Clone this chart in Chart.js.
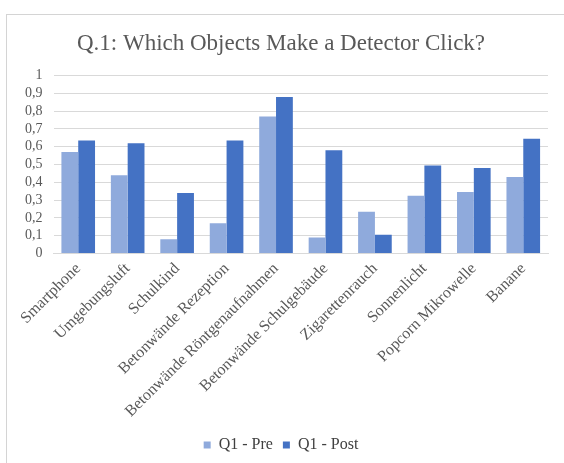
<!DOCTYPE html>
<html>
<head>
<meta charset="utf-8">
<script src="https://cdn.jsdelivr.net/npm/chart.js@4/dist/chart.umd.min.js"></script>
<style>
  html, body { margin: 0; padding: 0; background: #fff; }
  #frame { position: absolute; left: 6px; top: 14px; width: 600px; height: 500px; border: 1px solid #d4d4d4; }
  #wrap { position: absolute; left: 0; top: 0; width: 564px; height: 463px; }
</style>
</head>
<body>
<div id="frame"></div>
<div id="wrap"><canvas id="myChart" width="564" height="463"></canvas></div>
<script>
const categories = [
  "Smartphone",
  "Umgebungsluft",
  "Schulkind",
  "Betonwände Rezeption",
  "Betonwände Röntgenaufnahmen",
  "Betonwände Schulgebäude",
  "Zigarettenrauch",
  "Sonnenlicht",
  "Popcorn Mikrowelle",
  "Banane",
]
const preValues = [0.57, 0.44, 0.08, 0.17, 0.77, 0.09, 0.235, 0.325, 0.345, 0.43]
const postValues = [0.635, 0.62, 0.34, 0.635, 0.88, 0.58, 0.105, 0.495, 0.48, 0.645]

const serif = "'Liberation Serif', 'Times New Roman', serif"
Chart.defaults.font.family = serif

const config = {
  type: "bar",
  data: {
    labels: categories,
    datasets: [
      { label: "Q1 - Pre", data: preValues, backgroundColor: "#8faadc" },
      { label: "Q1 - Post", data: postValues, backgroundColor: "#4472c4" },
    ],
  },
  options: {
    responsive: false,
    animation: false,
    devicePixelRatio: 1,
    layout: { padding: { left: 14, right: 16, top: 20, bottom: 0 } },
    datasets: { bar: { categoryPercentage: 0.68, barPercentage: 1 } },
    scales: {
      x: {
        grid: { display: false, drawTicks: false },
        border: { color: "#d9d9d9" },
        ticks: {
          autoSkip: false,
          minRotation: 45,
          maxRotation: 45,
          color: "#595959",
          font: { family: serif, size: 16 },
          padding: 6,
        },
      },
      y: {
        min: 0,
        max: 1,
        grid: { color: "#d9d9d9", drawTicks: false },
        border: { display: false },
        ticks: {
          autoSkip: false,
          stepSize: 0.1,
          color: "#595959",
          font: { family: serif, size: 14 },
          padding: 11,
          callback: v => String(Math.round(v * 10) / 10).replace(".", ","),
        },
      },
    },
    plugins: {
      title: {
        display: true,
        text: "Q.1: Which Objects Make a Detector Click?",
        color: "#595959",
        font: { family: serif, size: 23, weight: "normal" },
        padding: { top: 10, bottom: 18 },
      },
      legend: {
        position: "bottom",
        labels: {
          boxWidth: 7,
          boxHeight: 7,
          color: "#404040",
          font: { family: serif, size: 16 },
          padding: 10,
        },
      },
      tooltip: { enabled: false },
    },
  },
}

new Chart(document.getElementById("myChart"), config)
</script>
</body>
</html>
